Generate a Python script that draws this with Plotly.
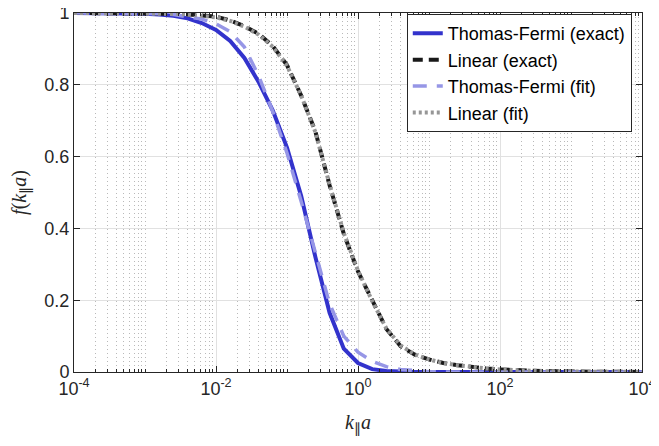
import plotly.graph_objects as go

# log10 of k_par * a sample points
log_k = [-4.0, -3.6, -3.2, -3.0, -2.8, -2.6, -2.4, -2.2, -2.0, -1.8, -1.6, -1.4, -1.2, -1.0,
         -0.8, -0.6, -0.4, -0.2, 0.0, 0.2, 0.4, 0.6, 0.8, 1.0, 1.2, 1.4, 1.6, 1.8, 2.0,
         2.2, 2.4, 2.6, 3.0, 3.5, 4.0]
k_vals = [10 ** v for v in log_k]

tf_exact = [1.0, 0.9998, 0.9993, 0.998, 0.996, 0.992, 0.985, 0.972, 0.953, 0.922, 0.875, 0.808,
            0.728, 0.625, 0.49, 0.32, 0.165, 0.065, 0.025, 0.008, 0.003, 0.001, 0.0, 0.0, 0.0,
            0.0, 0.0, 0.0, 0.0, 0.0, 0.0, 0.0, 0.0, 0.0, 0.0]
lin_exact = [1.0, 1.0, 0.9998, 0.9995, 0.999, 0.998, 0.996, 0.994, 0.99, 0.979, 0.963, 0.942,
             0.908, 0.855, 0.77, 0.67, 0.52, 0.385, 0.28, 0.20, 0.12, 0.072, 0.048, 0.035,
             0.025, 0.019, 0.014, 0.010, 0.007, 0.005, 0.0035, 0.0025, 0.0012, 0.0005, 0.0002]
tf_fit = [1.0, 0.9998, 0.9995, 0.999, 0.998, 0.996, 0.99, 0.983, 0.97, 0.948, 0.905, 0.825,
          0.725, 0.61, 0.475, 0.33, 0.19, 0.10, 0.055, 0.03, 0.015, 0.007, 0.003, 0.001, 0.0,
          0.0, 0.0, 0.0, 0.0, 0.0, 0.0, 0.0, 0.0, 0.0, 0.0]
lin_fit = [1.0, 1.0, 0.9998, 0.9995, 0.999, 0.998, 0.996, 0.993, 0.988, 0.978, 0.962, 0.94,
           0.906, 0.853, 0.77, 0.668, 0.522, 0.387, 0.282, 0.198, 0.121, 0.074, 0.049, 0.035,
           0.025, 0.019, 0.014, 0.010, 0.007, 0.005, 0.0035, 0.0025, 0.0012, 0.0005, 0.0002]

x_tick_vals = [1e-4, 1e-2, 1e0, 1e2, 1e4]
x_tick_text = ["10<sup>-4</sup>", "10<sup>-2</sup>", "10<sup>0</sup>", "10<sup>2</sup>", "10<sup>4</sup>"]
y_tick_vals = [0, 0.2, 0.4, 0.6, 0.8, 1]
y_tick_text = ["0", "0.2", "0.4", "0.6", "0.8", "1"]

fig = go.Figure()
fig.add_trace(go.Scatter(x=k_vals, y=tf_exact, mode="lines", name="Thomas-Fermi (exact)",
                         line=dict(color="rgb(51,51,204)", width=4)))
fig.add_trace(go.Scatter(x=k_vals, y=lin_exact, mode="lines", name="Linear (exact)",
                         line=dict(color="rgb(25,25,25)", width=4, dash="10px,6px")))
fig.add_trace(go.Scatter(x=k_vals, y=tf_fit, mode="lines", name="Thomas-Fermi (fit)",
                         line=dict(color="rgb(150,150,230)", width=3.5, dash="14px,10px")))
fig.add_trace(go.Scatter(x=k_vals, y=lin_fit, mode="lines", name="Linear (fit)",
                         line=dict(color="rgb(150,150,150)", width=4, dash="3px,3px")))

axis_font = dict(family="Liberation Sans, Arial, sans-serif", size=18, color="rgb(38,38,38)")
title_font = dict(family="Liberation Serif, Times New Roman, serif", size=20, color="rgb(38,38,38)")

# page has an 8px body margin, so the figure is sized to fit the 659x446 window
fig.update_layout(
    width=651, height=430,
    margin=dict(l=66, r=17, t=5, b=66, autoexpand=False),
    paper_bgcolor="white", plot_bgcolor="white",
    showlegend=True,
    legend=dict(x=0.982, y=0.997, xanchor="right", yanchor="top",
                bgcolor="white", bordercolor="rgb(38,38,38)", borderwidth=1,
                font=dict(family="Liberation Sans, Arial, sans-serif", size=18, color="black"),
                tracegroupgap=0, itemwidth=30),
    xaxis=dict(type="log", range=[-4, 4], tickvals=x_tick_vals, ticktext=x_tick_text,
               tickfont=axis_font, ticks="inside", ticklen=6, tickcolor="rgb(38,38,38)",
               ticklabeloverflow="allow",
               showline=True, linecolor="rgb(38,38,38)", linewidth=1, mirror="ticks",
               showgrid=True, gridcolor="rgb(225,225,225)", gridwidth=1, automargin=False,
               minor=dict(dtick="D1", showgrid=True, griddash="1px,3px", gridcolor="rgb(185,185,185)",
                          gridwidth=1, ticks="inside", ticklen=3, tickcolor="rgb(38,38,38)"),
               zeroline=False,
               title=dict(text="<i>k</i><sub>∥</sub><i>a</i>", standoff=17, font=title_font)),
    yaxis=dict(range=[0, 1], tickvals=y_tick_vals, ticktext=y_tick_text,
               tickfont=axis_font, ticks="inside", ticklen=6, tickcolor="rgb(38,38,38)",
               ticklabeloverflow="allow",
               showline=True, linecolor="rgb(38,38,38)", linewidth=1, mirror="ticks",
               showgrid=True, gridcolor="rgb(225,225,225)", gridwidth=1, zeroline=False,
               automargin=False,
               title=dict(text="<i>f</i>(<i>k</i><sub>∥</sub><i>a</i>)", standoff=18, font=title_font)),
)

fig.write_html("out.html")
